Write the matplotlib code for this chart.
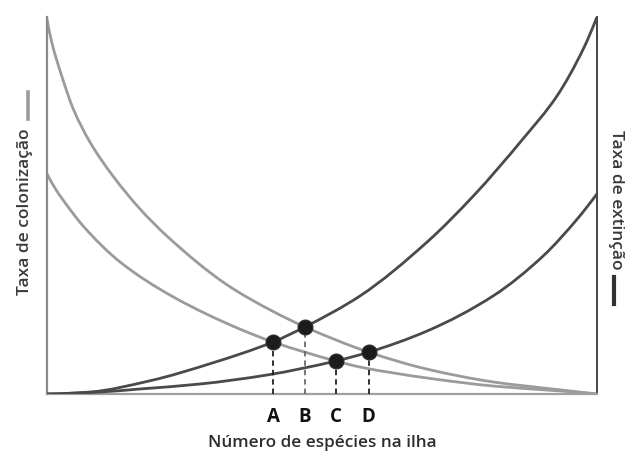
import matplotlib
matplotlib.use("Agg")
import matplotlib.pyplot as plt
from matplotlib.lines import Line2D
from matplotlib.path import Path
from matplotlib.patches import PathPatch

# ---- data (x and y on a 0-100 scale) ----
col_high_x = [0, 0.85, 2.67, 4.78, 7.82, 12.0, 16.9, 21.8, 32.7, 41.1, 46.9, 58.5, 69.1, 81.1, 93.3, 100]
col_high_y = [99.5, 93.4, 84.4, 75.6, 66.8, 57.8, 49.1, 41.9, 29.0, 21.9, 17.8, 11.1, 6.6, 3.2, 1.1, 0]

col_low_x = [0, 1.5, 3.5, 6.55, 13.3, 22.9, 35.1, 41.1, 52.5, 56.9, 69.1, 81.1, 93.3, 100]
col_low_y = [58.4, 54.5, 50.3, 44.6, 35.0, 25.8, 17.2, 13.8, 8.75, 7.16, 4.24, 2.12, 0.8, 0]

ext_high_x = [0, 7.82, 18.7, 30.0, 41.1, 46.9, 56.9, 69.1, 77.5, 86.5, 92.7, 97.5, 100]
ext_high_y = [0, 0.53, 3.5, 8.2, 13.8, 17.8, 26.0, 40.3, 52.5, 67.6, 79.0, 91.5, 100]

ext_low_x = [0, 9.64, 16.9, 27.8, 40.0, 52.5, 58.5, 69.1, 81.1, 90.2, 96.4, 100]
ext_low_y = [0, 0.53, 1.33, 2.65, 5.04, 8.75, 11.1, 16.7, 26.0, 36.6, 46.4, 53.1]

eq_labels = ["A", "B", "C", "D"]
eq_x = [41.1, 46.9, 52.5, 58.5]
eq_y = [13.8, 17.8, 8.75, 11.1]

xlabel = "Número de espécies na ilha"
left_label = "Taxa de colonização"
right_label = "Taxa de extinção"

# ---- figure ----
W, H = 638, 452
plt.rcParams['font.family'] = ['Open Sans', 'DejaVu Sans']
fig = plt.figure(figsize=(W / 100, H / 100), dpi=100)
ax = fig.add_axes([47 / W, (H - 395) / H, 550 / W, 377 / H])
ax.set_xlim(0, 100)
ax.set_ylim(0, 100)


def smooth_curve(ax, xs, ys, **kw):
    """Draw a smooth, shape-preserving (PCHIP-style Bezier) line through the points."""
    n = len(xs)
    h = [xs[i + 1] - xs[i] for i in range(n - 1)]
    d = [(ys[i + 1] - ys[i]) / h[i] for i in range(n - 1)]
    m = [0.0] * n
    for k in range(1, n - 1):
        if d[k - 1] * d[k] <= 0:
            m[k] = 0.0
        else:
            w1 = 2 * h[k] + h[k - 1]
            w2 = h[k] + 2 * h[k - 1]
            m[k] = (w1 + w2) / (w1 / d[k - 1] + w2 / d[k])

    def end_slope(h0, h1, d0, d1):
        s = ((2 * h0 + h1) * d0 - h0 * d1) / (h0 + h1)
        if s * d0 <= 0:
            return 0.0
        if d0 * d1 < 0 and abs(s) > abs(3 * d0):
            return 3 * d0
        return s

    m[0] = end_slope(h[0], h[1], d[0], d[1])
    m[-1] = end_slope(h[-1], h[-2], d[-1], d[-2])
    verts = [(xs[0], ys[0])]
    codes = [Path.MOVETO]
    for i in range(n - 1):
        t = h[i] / 3.0
        verts += [(xs[i] + t, ys[i] + m[i] * t),
                  (xs[i + 1] - t, ys[i + 1] - m[i + 1] * t),
                  (xs[i + 1], ys[i + 1])]
        codes += [Path.CURVE4] * 3
    patch = PathPatch(Path(verts, codes), fill=False, capstyle="round", **kw)
    ax.add_patch(patch)
    return patch


col_color = "#9b9b9b"
ext_color = "#4a4a4a"
smooth_curve(ax, col_high_x, col_high_y, edgecolor=col_color, lw=2.0, zorder=2)
smooth_curve(ax, col_low_x, col_low_y, edgecolor=col_color, lw=2.0, zorder=2)
smooth_curve(ax, ext_high_x, ext_high_y, edgecolor=ext_color, lw=2.0, zorder=3)
smooth_curve(ax, ext_low_x, ext_low_y, edgecolor=ext_color, lw=2.0, zorder=3)

dash_colors = ["#222222", "#6a6a6a", "#222222", "#222222"]
for lab, x, y, dc in zip(eq_labels, eq_x, eq_y, dash_colors):
    ax.plot([x, x], [0, y], color=dc, lw=1.3, linestyle=(0, (3.0, 2.2)), zorder=4)
    ax.plot([x], [y], marker="o", markersize=10.5, color="#1c1c1c",
            markeredgecolor="#2a2a2a", zorder=6)
    ax.annotate(lab, xy=(x, 0), xytext=(0, -15.5), textcoords="offset points",
                ha="center", va="center", fontsize=13.5, fontweight="bold",
                color="#111111", annotation_clip=False)

ax.set_xticks([])
ax.set_yticks([])
ax.spines["top"].set_visible(False)
ax.spines["left"].set_color("#8a8a8a")
ax.spines["left"].set_linewidth(1.6)
ax.spines["bottom"].set_color("#a0a0a0")
ax.spines["bottom"].set_linewidth(1.6)
ax.spines["right"].set_color("#444444")
ax.spines["right"].set_linewidth(1.4)


def fx(px):
    return px / W


def fy(py):
    return 1 - py / H


fig.text(fx(322), fy(443), xlabel, ha="center", va="center", fontsize=12.3,
         fontweight=600, color="#2e2e2e")

fig.text(fx(25), fy(212), left_label, ha="center", va="center", rotation=90,
         fontsize=12.5, fontweight=600, color="#3a3a3a")
fig.add_artist(Line2D([fx(27.5), fx(27.5)], [fy(120), fy(93)], color="#9b9b9b",
                      lw=2.6, transform=fig.transFigure))

fig.text(fx(616), fy(200), right_label, ha="center", va="center", rotation=-90,
         fontsize=12.5, fontweight=600, color="#3a3a3a")
fig.add_artist(Line2D([fx(614), fx(614)], [fy(278), fy(305)], color="#333333",
                      lw=3.0, transform=fig.transFigure))

fig.savefig("out.png", dpi=100)
